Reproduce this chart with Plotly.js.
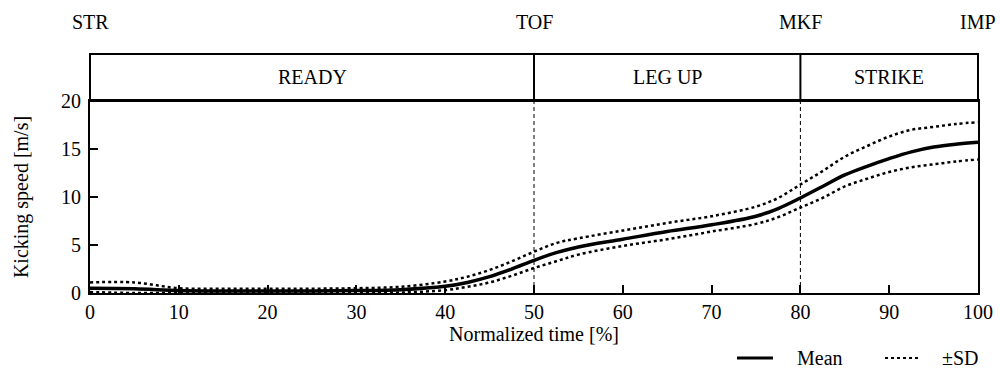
<!DOCTYPE html>
<html><head><meta charset="utf-8">
<script src="https://cdn.plot.ly/plotly-3.0.1.min.js"></script>
<style>html,body{margin:0;padding:0;background:#fff}#chart{width:1000px;height:374px}</style>
</head><body><div id="chart"></div>
<script>
const timePct = [0,5,10,15,20,25,30,35,40,42.5,45,47.5,50,52.5,55,60,65,70,75,77.5,80,82.5,85,87.5,90,92.5,95,97.5,100];
const meanSpeed = [0.5,0.45,0.25,0.2,0.2,0.2,0.25,0.35,0.7,1.1,1.7,2.5,3.4,4.2,4.8,5.6,6.4,7.1,8.0,8.8,9.9,11.1,12.3,13.2,14.0,14.7,15.2,15.5,15.7];
const upperSD = [1.1,1.1,0.5,0.45,0.45,0.45,0.5,0.65,1.2,1.7,2.4,3.3,4.3,5.2,5.7,6.5,7.3,8.0,9.0,9.9,11.3,12.7,14.2,15.3,16.3,17.0,17.3,17.6,17.8];
const lowerSD = [0.1,0.0,0.0,0.0,0.0,0.0,0.0,0.05,0.3,0.65,1.1,1.8,2.6,3.3,4.0,4.9,5.6,6.4,7.2,7.9,8.9,9.9,11.1,11.9,12.6,13.1,13.4,13.7,13.9];
const eventNames = ['STR','TOF','MKF','IMP'];
const eventTimes = [0,50,80,100];
const phaseNames = ['READY','LEG UP','STRIKE'];
const legendNames = ['Mean','±SD'];

const FONT = 'Liberation Serif';
const FS = 20;
const traces = [
  {x: timePct, y: upperSD, mode:'lines', line:{color:'#000', width:2.5, dash:'dot', shape:'spline'}, name:'±SD'},
  {x: timePct, y: lowerSD, mode:'lines', line:{color:'#000', width:2.5, dash:'dot', shape:'spline'}, name:'±SD'},
  {x: timePct, y: meanSpeed, mode:'lines', line:{color:'#000', width:3.5, shape:'spline'}, name:'Mean'}
];

const bandTop = 1.245;
const shapes = [
  {type:'rect', xref:'paper', yref:'paper', x0:0, x1:1, y0:1, y1:bandTop, line:{color:'#000', width:2}},
];
const annotations = [];
for (let i = 0; i < eventTimes.length; i++) {
  annotations.push({x: eventTimes[i], xref:'x', y:1.411, yref:'paper', text: eventNames[i], showarrow:false, font:{family:FONT, size:FS, color:'#000'}, xanchor:'center', yanchor:'middle'});
  if (eventTimes[i] > 0 && eventTimes[i] < 100) {
    shapes.push({type:'line', xref:'x', yref:'paper', x0:eventTimes[i], x1:eventTimes[i], y0:1, y1:bandTop, line:{color:'#000', width:2}});
    shapes.push({type:'line', xref:'x', yref:'y', x0:eventTimes[i], x1:eventTimes[i], y0:0, y1:20, line:{color:'#000', width:1, dash:'4px,3px'}});
  }
}
for (let i = 0; i < phaseNames.length; i++) {
  annotations.push({x:(eventTimes[i]+eventTimes[i+1])/2, xref:'x', y:(1+bandTop)/2, yref:'paper', text: phaseNames[i], showarrow:false, font:{family:FONT, size:FS, color:'#000'}, xanchor:'center', yanchor:'middle'});
}
// manual legend
const legY = -0.3385;
shapes.push({type:'line', xref:'paper', yref:'paper', x0:0.7286, x1:0.7691, y0:legY, y1:legY, line:{color:'#000', width:3}});
shapes.push({type:'line', xref:'paper', yref:'paper', x0:0.8953, x1:0.9324, y0:legY, y1:legY, line:{color:'#000', width:2, dash:'dot'}});
annotations.push({x:0.7939, xref:'paper', y:legY, yref:'paper', text:legendNames[0], showarrow:false, xanchor:'left', yanchor:'middle', font:{family:FONT, size:FS, color:'#000'}});
annotations.push({x:0.9572, xref:'paper', y:legY, yref:'paper', text:legendNames[1], showarrow:false, xanchor:'left', yanchor:'middle', font:{family:FONT, size:FS, color:'#000'}});

const layout = {
  width:1000, height:374,
  margin:{l:90, r:22, t:101, b:81},
  paper_bgcolor:'#fff', plot_bgcolor:'#fff',
  font:{family:FONT, size:FS, color:'#000'},
  showlegend:false,
  xaxis:{range:[0,100], tickvals:[0,10,20,30,40,50,60,70,80,90,100], ticks:'inside', ticklen:8, tickwidth:2, tickcolor:'#000',
    showline:true, linewidth:2, linecolor:'#000', mirror:true, showgrid:false, zeroline:false,
    title:{text:'Normalized time [%]', font:{family:FONT, size:FS}, standoff:2}, tickfont:{family:FONT, size:FS}},
  yaxis:{range:[0,20], tickvals:[0,5,10,15,20], ticks:'inside', ticklen:8, tickwidth:2, tickcolor:'#000',
    showline:true, linewidth:2, linecolor:'#000', mirror:true, showgrid:false, zeroline:false, ticklabelstandoff:3,
    title:{text:'Kicking speed [m/s]', font:{family:FONT, size:FS}, standoff:27}, tickfont:{family:FONT, size:FS}},
  shapes: shapes,
  annotations: annotations
};
Plotly.newPlot('chart', traces, layout, {staticPlot:true, displayModeBar:false});
</script></body></html>
